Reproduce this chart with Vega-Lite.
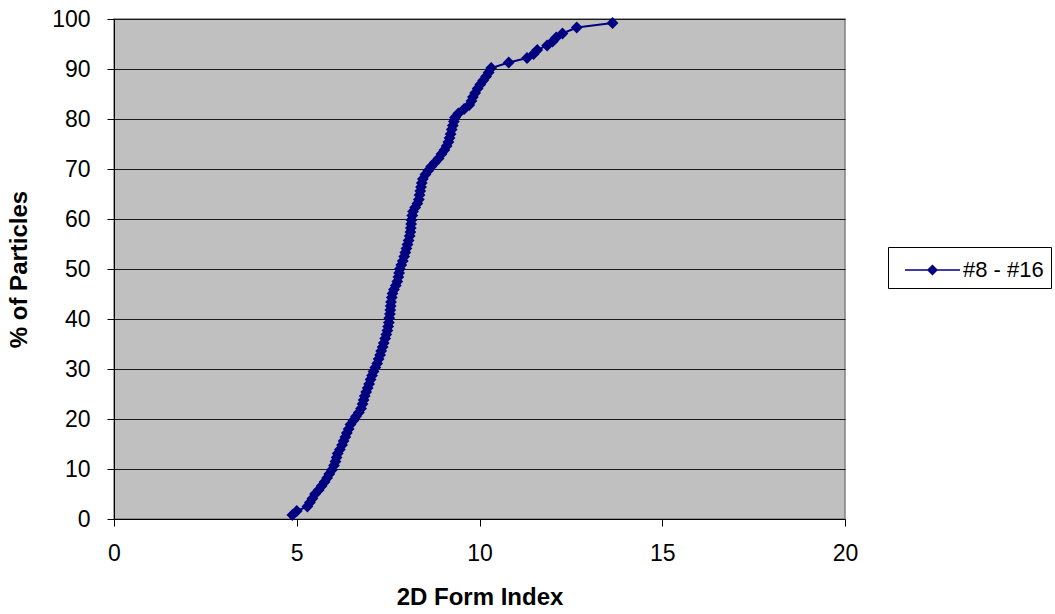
{
  "$schema": "https://vega.github.io/schema/vega-lite/v6.json",
  "width": 731,
  "height": 500,
  "autosize": {"type": "none"},
  "padding": {"left": 114, "top": 19, "right": 210, "bottom": 95},
  "background": "white",
  "config": {
    "font": "Liberation Sans",
    "view": {"fill": "#C0C0C0", "stroke": "#808080", "strokeWidth": 1.5},
    "axis": {
      "labelFont": "Liberation Sans",
      "labelFontSize": 23,
      "labelColor": "black",
      "titleFont": "Liberation Sans",
      "titleFontSize": 24,
      "titleFontWeight": "bold",
      "titleColor": "black",
      "tickColor": "black",
      "tickSize": 7,
      "domainColor": "black"
    }
  },
  "data": {
    "values": [
      {"x": 4.88, "y": 0.8, "s": "#8 - #16"},
      {"x": 5.0, "y": 1.6, "s": "#8 - #16"},
      {"x": 5.29, "y": 2.5, "s": "#8 - #16"},
      {"x": 5.36, "y": 3.3, "s": "#8 - #16"},
      {"x": 5.43, "y": 4.1, "s": "#8 - #16"},
      {"x": 5.5, "y": 5.0, "s": "#8 - #16"},
      {"x": 5.6, "y": 5.8, "s": "#8 - #16"},
      {"x": 5.68, "y": 6.6, "s": "#8 - #16"},
      {"x": 5.76, "y": 7.4, "s": "#8 - #16"},
      {"x": 5.83, "y": 8.2, "s": "#8 - #16"},
      {"x": 5.89, "y": 9.0, "s": "#8 - #16"},
      {"x": 5.96, "y": 9.8, "s": "#8 - #16"},
      {"x": 6.02, "y": 10.7, "s": "#8 - #16"},
      {"x": 6.06, "y": 11.5, "s": "#8 - #16"},
      {"x": 6.09, "y": 12.3, "s": "#8 - #16"},
      {"x": 6.12, "y": 13.1, "s": "#8 - #16"},
      {"x": 6.18, "y": 13.9, "s": "#8 - #16"},
      {"x": 6.24, "y": 14.8, "s": "#8 - #16"},
      {"x": 6.28, "y": 15.6, "s": "#8 - #16"},
      {"x": 6.33, "y": 16.4, "s": "#8 - #16"},
      {"x": 6.37, "y": 17.2, "s": "#8 - #16"},
      {"x": 6.42, "y": 18.0, "s": "#8 - #16"},
      {"x": 6.47, "y": 18.9, "s": "#8 - #16"},
      {"x": 6.55, "y": 19.7, "s": "#8 - #16"},
      {"x": 6.62, "y": 20.5, "s": "#8 - #16"},
      {"x": 6.7, "y": 21.3, "s": "#8 - #16"},
      {"x": 6.76, "y": 22.1, "s": "#8 - #16"},
      {"x": 6.8, "y": 23.0, "s": "#8 - #16"},
      {"x": 6.83, "y": 23.8, "s": "#8 - #16"},
      {"x": 6.86, "y": 24.6, "s": "#8 - #16"},
      {"x": 6.9, "y": 25.4, "s": "#8 - #16"},
      {"x": 6.94, "y": 26.2, "s": "#8 - #16"},
      {"x": 6.98, "y": 27.0, "s": "#8 - #16"},
      {"x": 7.02, "y": 27.9, "s": "#8 - #16"},
      {"x": 7.06, "y": 28.7, "s": "#8 - #16"},
      {"x": 7.1, "y": 29.5, "s": "#8 - #16"},
      {"x": 7.15, "y": 30.3, "s": "#8 - #16"},
      {"x": 7.2, "y": 31.1, "s": "#8 - #16"},
      {"x": 7.24, "y": 32.0, "s": "#8 - #16"},
      {"x": 7.28, "y": 32.8, "s": "#8 - #16"},
      {"x": 7.31, "y": 33.6, "s": "#8 - #16"},
      {"x": 7.35, "y": 34.4, "s": "#8 - #16"},
      {"x": 7.38, "y": 35.2, "s": "#8 - #16"},
      {"x": 7.42, "y": 36.1, "s": "#8 - #16"},
      {"x": 7.45, "y": 36.9, "s": "#8 - #16"},
      {"x": 7.48, "y": 37.7, "s": "#8 - #16"},
      {"x": 7.5, "y": 38.5, "s": "#8 - #16"},
      {"x": 7.52, "y": 39.3, "s": "#8 - #16"},
      {"x": 7.53, "y": 40.2, "s": "#8 - #16"},
      {"x": 7.55, "y": 41.0, "s": "#8 - #16"},
      {"x": 7.56, "y": 41.8, "s": "#8 - #16"},
      {"x": 7.57, "y": 42.6, "s": "#8 - #16"},
      {"x": 7.58, "y": 43.4, "s": "#8 - #16"},
      {"x": 7.6, "y": 44.3, "s": "#8 - #16"},
      {"x": 7.62, "y": 45.1, "s": "#8 - #16"},
      {"x": 7.66, "y": 45.9, "s": "#8 - #16"},
      {"x": 7.71, "y": 46.7, "s": "#8 - #16"},
      {"x": 7.75, "y": 47.5, "s": "#8 - #16"},
      {"x": 7.78, "y": 48.4, "s": "#8 - #16"},
      {"x": 7.8, "y": 49.2, "s": "#8 - #16"},
      {"x": 7.82, "y": 50.0, "s": "#8 - #16"},
      {"x": 7.86, "y": 50.8, "s": "#8 - #16"},
      {"x": 7.9, "y": 51.6, "s": "#8 - #16"},
      {"x": 7.94, "y": 52.5, "s": "#8 - #16"},
      {"x": 7.97, "y": 53.3, "s": "#8 - #16"},
      {"x": 8.0, "y": 54.1, "s": "#8 - #16"},
      {"x": 8.03, "y": 54.9, "s": "#8 - #16"},
      {"x": 8.06, "y": 55.7, "s": "#8 - #16"},
      {"x": 8.09, "y": 56.6, "s": "#8 - #16"},
      {"x": 8.11, "y": 57.4, "s": "#8 - #16"},
      {"x": 8.12, "y": 58.2, "s": "#8 - #16"},
      {"x": 8.13, "y": 59.0, "s": "#8 - #16"},
      {"x": 8.14, "y": 59.8, "s": "#8 - #16"},
      {"x": 8.16, "y": 60.7, "s": "#8 - #16"},
      {"x": 8.18, "y": 61.5, "s": "#8 - #16"},
      {"x": 8.24, "y": 62.3, "s": "#8 - #16"},
      {"x": 8.3, "y": 63.1, "s": "#8 - #16"},
      {"x": 8.34, "y": 63.9, "s": "#8 - #16"},
      {"x": 8.36, "y": 64.8, "s": "#8 - #16"},
      {"x": 8.38, "y": 65.6, "s": "#8 - #16"},
      {"x": 8.4, "y": 66.4, "s": "#8 - #16"},
      {"x": 8.42, "y": 67.2, "s": "#8 - #16"},
      {"x": 8.45, "y": 68.0, "s": "#8 - #16"},
      {"x": 8.52, "y": 68.9, "s": "#8 - #16"},
      {"x": 8.6, "y": 69.7, "s": "#8 - #16"},
      {"x": 8.68, "y": 70.5, "s": "#8 - #16"},
      {"x": 8.78, "y": 71.3, "s": "#8 - #16"},
      {"x": 8.88, "y": 72.1, "s": "#8 - #16"},
      {"x": 8.96, "y": 73.0, "s": "#8 - #16"},
      {"x": 9.04, "y": 73.8, "s": "#8 - #16"},
      {"x": 9.1, "y": 74.6, "s": "#8 - #16"},
      {"x": 9.15, "y": 75.4, "s": "#8 - #16"},
      {"x": 9.18, "y": 76.2, "s": "#8 - #16"},
      {"x": 9.21, "y": 77.0, "s": "#8 - #16"},
      {"x": 9.24, "y": 77.9, "s": "#8 - #16"},
      {"x": 9.27, "y": 78.7, "s": "#8 - #16"},
      {"x": 9.3, "y": 79.5, "s": "#8 - #16"},
      {"x": 9.33, "y": 80.3, "s": "#8 - #16"},
      {"x": 9.42, "y": 81.1, "s": "#8 - #16"},
      {"x": 9.58, "y": 82.0, "s": "#8 - #16"},
      {"x": 9.72, "y": 82.8, "s": "#8 - #16"},
      {"x": 9.78, "y": 83.6, "s": "#8 - #16"},
      {"x": 9.82, "y": 84.4, "s": "#8 - #16"},
      {"x": 9.88, "y": 85.2, "s": "#8 - #16"},
      {"x": 9.95, "y": 86.1, "s": "#8 - #16"},
      {"x": 10.02, "y": 86.9, "s": "#8 - #16"},
      {"x": 10.1, "y": 87.7, "s": "#8 - #16"},
      {"x": 10.18, "y": 88.5, "s": "#8 - #16"},
      {"x": 10.25, "y": 89.3, "s": "#8 - #16"},
      {"x": 10.32, "y": 90.2, "s": "#8 - #16"},
      {"x": 10.8, "y": 91.3, "s": "#8 - #16"},
      {"x": 11.3, "y": 92.2, "s": "#8 - #16"},
      {"x": 11.48, "y": 93.0, "s": "#8 - #16"},
      {"x": 11.58, "y": 93.8, "s": "#8 - #16"},
      {"x": 11.85, "y": 94.7, "s": "#8 - #16"},
      {"x": 12.0, "y": 95.5, "s": "#8 - #16"},
      {"x": 12.1, "y": 96.3, "s": "#8 - #16"},
      {"x": 12.27, "y": 97.1, "s": "#8 - #16"},
      {"x": 12.66, "y": 98.3, "s": "#8 - #16"},
      {"x": 13.64, "y": 99.2, "s": "#8 - #16"}
    ]
  },
  "mark": {
    "type": "line",
    "strokeWidth": 2,
    "point": {"shape": "diamond", "size": 140, "filled": true, "color": "#000080", "opacity": 1}
  },
  "encoding": {
    "x": {
      "field": "x",
      "type": "quantitative",
      "scale": {"domain": [0, 20], "nice": false, "zero": false},
      "axis": {"values": [0, 5, 10, 15, 20], "grid": false, "labelFlush": false, "title": "2D Form Index", "labelPadding": 16, "titlePadding": 20}
    },
    "y": {
      "field": "y",
      "type": "quantitative",
      "scale": {"domain": [0, 100], "nice": false},
      "axis": {
        "values": [0, 10, 20, 30, 40, 50, 60, 70, 80, 90, 100],
        "grid": true,
        "gridColor": "#1a1a1a",
        "gridWidth": 1,
        "labelFlush": false,
        "title": "% of Particles",
        "labelPadding": 17,
        "titlePadding": 20
      }
    },
    "color": {
      "field": "s",
      "type": "nominal",
      "scale": {"range": ["#000080"]},
      "legend": {
        "title": null,
        "orient": "none",
        "legendX": 774,
        "legendY": 228,
        "strokeColor": "black",
        "fillColor": "white",
        "padding": 7,
        "symbolType": "M-0.4,0H3.27M1.43,-0.3L1.73,0L1.43,0.3L1.13,0Z",
        "symbolSize": 900,
        "symbolStrokeWidth": 1.5,
        "symbolFillColor": "#000080",
        "symbolStrokeColor": "#000080",
        "labelFont": "Liberation Sans",
        "labelFontSize": 22,
        "labelColor": "black",
        "labelOffset": 36
      }
    }
  }
}
